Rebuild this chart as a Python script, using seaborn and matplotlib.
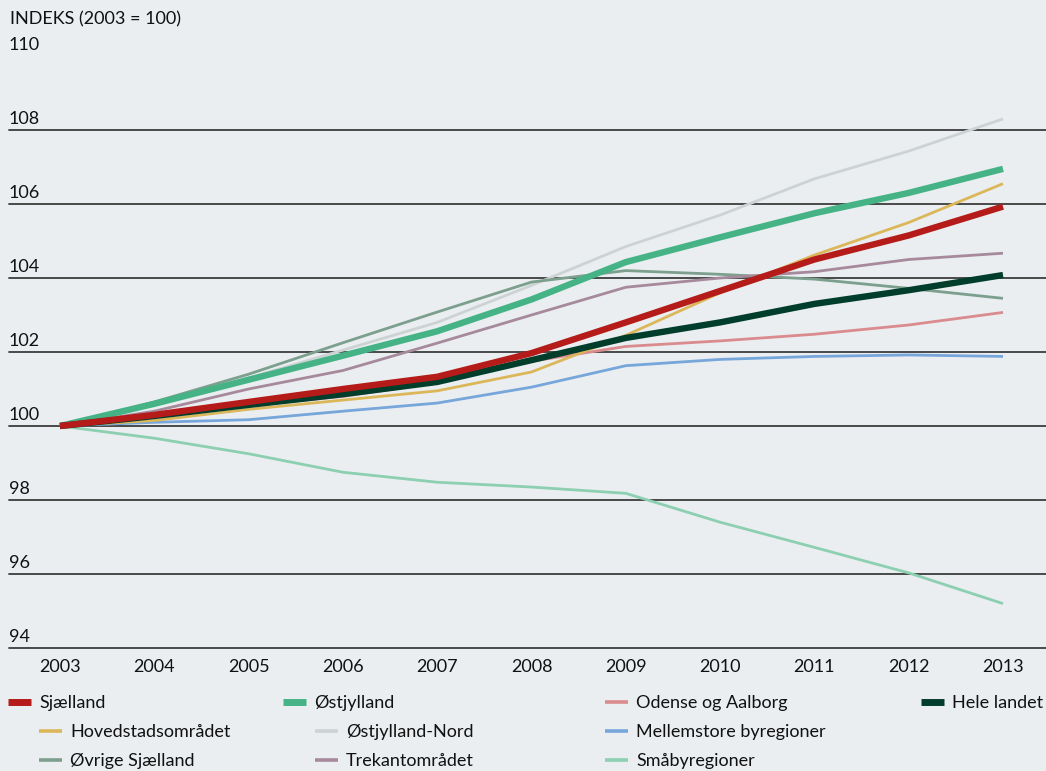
import matplotlib
matplotlib.use("Agg")
import matplotlib.pyplot as plt
from matplotlib.lines import Line2D
from matplotlib.transforms import blended_transform_factory
import seaborn as sns
import pandas as pd

years = [2003, 2004, 2005, 2006, 2007, 2008, 2009, 2010, 2011, 2012, 2013]

sjaelland = [100, 100.3, 100.65, 101.0, 101.33, 101.97, 102.8, 103.65, 104.5, 105.15, 105.93]
ostjylland = [100, 100.6, 101.25, 101.9, 102.56, 103.42, 104.43, 105.1, 105.75, 106.3, 106.95]
odense_aalborg = [100, 100.25, 100.55, 100.8, 101.17, 101.75, 102.15, 102.3, 102.48, 102.73, 103.07]
hele_landet = [100, 100.27, 100.57, 100.86, 101.19, 101.78, 102.38, 102.8, 103.3, 103.67, 104.08]
hovedstad = [100, 100.15, 100.45, 100.7, 100.95, 101.46, 102.45, 103.6, 104.62, 105.5, 106.55]
ostjylland_nord = [100, 100.6, 101.3, 102.05, 102.8, 103.8, 104.85, 105.7, 106.68, 107.43, 108.3]
mellemstore = [100, 100.1, 100.17, 100.4, 100.62, 101.05, 101.63, 101.8, 101.88, 101.92, 101.88]
ovrige_sjaelland = [100, 100.65, 101.4, 102.25, 103.08, 103.89, 104.2, 104.1, 103.97, 103.72, 103.45]
trekant = [100, 100.4, 101.0, 101.5, 102.24, 103.0, 103.75, 104.0, 104.17, 104.5, 104.67]
smaaby = [100, 99.67, 99.25, 98.75, 98.48, 98.35, 98.18, 97.4, 96.72, 96.03, 95.2]

names = ["Sjælland", "Østjylland", "Odense og Aalborg", "Hele landet",
         "Hovedstadsområdet", "Østjylland-Nord", "Mellemstore byregioner",
         "Øvrige Sjælland", "Trekantområdet", "Småbyregioner"]
series = [sjaelland, ostjylland, odense_aalborg, hele_landet, hovedstad,
          ostjylland_nord, mellemstore, ovrige_sjaelland, trekant, smaaby]
colors = ["#b41b19", "#45b386", "#d98b8e", "#013d2b", "#dcb75a",
          "#cdd3d3", "#77a6da", "#7c9f8e", "#a68a9c", "#8dcfb1"]
thick = {"Sjælland", "Østjylland", "Hele landet"}

ytick_vals = [94, 96, 98, 100, 102, 104, 106, 108, 110]
grid_vals = [94, 96, 98, 100, 102, 104, 106, 108]

rows = []
for n, s in zip(names, series):
    for y, v in zip(years, s):
        rows.append({"year": y, "value": v, "region": n})
df = pd.DataFrame(rows)

sns.set_style("white")
plt.rcParams["font.family"] = ["Lato", "DejaVu Sans"]
bg = "#eaeef1"
FS = 13

W, H = 1046, 771
fig = plt.figure(figsize=(W / 100, H / 100), dpi=100, facecolor=bg)
ax = fig.add_axes([9 / W, (H - 648) / H, (W - 9) / W, 592 / H])
ax.set_facecolor(bg)

for g in grid_vals:
    ax.axhline(g, color="#3c3c3c", lw=1.3, zorder=0.5, clip_on=False)

draw_order = ["Østjylland-Nord", "Øvrige Sjælland", "Trekantområdet", "Mellemstore byregioner",
              "Småbyregioner", "Odense og Aalborg", "Hovedstadsområdet",
              "Østjylland", "Hele landet", "Sjælland"]
palette = dict(zip(names, colors))
for n in draw_order:
    sub = df[df.region == n]
    sns.lineplot(data=sub, x="year", y="value", color=palette[n],
                 lw=4.6 if n in thick else 2.0, ax=ax, legend=False,
                 zorder=3 if n in thick else 2, solid_capstyle="butt")

ax.set_xlim(2002.459, 2013.456)
ax.set_ylim(94, 110)
ax.set_xticks(years)
ax.set_xticklabels([str(y) for y in years], fontsize=FS, color="#111111")
ax.set_yticks([])
ax.tick_params(axis="x", length=0, pad=8)
ax.set_xlabel("")
ax.set_ylabel("")
for sp in ax.spines.values():
    sp.set_visible(False)

tr = blended_transform_factory(ax.transAxes, ax.transData)
for v in ytick_vals:
    ax.text(0.0, v + 0.09, str(v), transform=tr, ha="left", va="bottom",
            fontsize=FS, color="#111111")

fig.text(10 / W, 1 - 27 / H, "INDEKS (2003 = 100)", ha="left", va="bottom",
         fontsize=FS, color="#111111")

# legend entries: (handle-left px, row-y px)
leg_pos = {
    "Sjælland": (8, 703), "Østjylland": (283, 703), "Odense og Aalborg": (605, 703),
    "Hele landet": (921, 703),
    "Hovedstadsområdet": (39, 732), "Østjylland-Nord": (315, 732),
    "Mellemstore byregioner": (605, 732),
    "Øvrige Sjælland": (39, 761), "Trekantområdet": (315, 761), "Småbyregioner": (605, 761),
}
for n in names:
    x, y = leg_pos[n]
    h = Line2D([], [], color=palette[n], lw=5.0 if n in thick else 2.6, solid_capstyle="butt")
    fig.legend([h], [n], loc="center left", bbox_to_anchor=(x / W, 1 - y / H),
               frameon=False, fontsize=FS, handlelength=1.3, handletextpad=0.42,
               borderpad=0, borderaxespad=0, labelcolor="#111111")

fig.savefig("out.png", dpi=100, facecolor=bg)
